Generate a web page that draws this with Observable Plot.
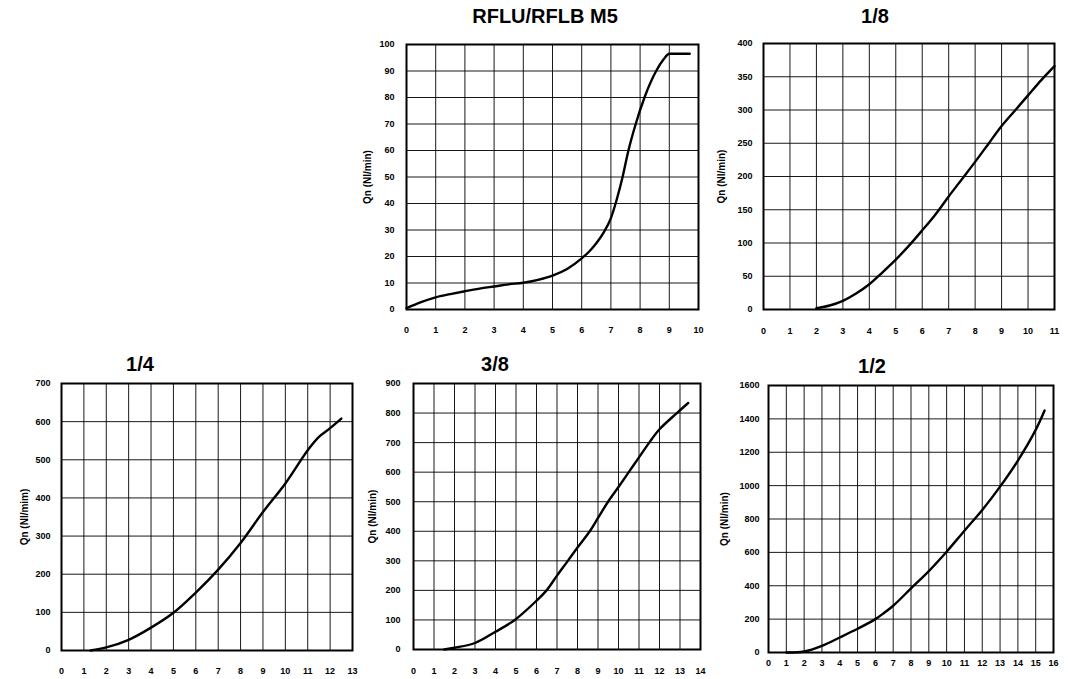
<!DOCTYPE html>
<html>
<head>
<meta charset="utf-8">
<script src="https://cdn.jsdelivr.net/npm/d3@7"></script>
<script src="https://cdn.jsdelivr.net/npm/@observablehq/plot@0.6"></script>
<style>
  body { margin: 0; background: #fff; }
  #wrap { position: relative; width: 1068px; height: 679px; overflow: hidden; background: #fff;
          font-family: "Liberation Sans", Arial, sans-serif; }
  .panel { position: absolute; }
  .title { position: absolute; font-weight: bold; font-size: 20px; transform: translateX(-50%);
           white-space: nowrap; color: #000; line-height: 1; }
</style>
</head>
<body>
<div id="wrap"></div>
<script>
// ---------- Data ----------
const titles = ["RFLU/RFLB M5", "1/8", "1/4", "3/8", "1/2"];
const yLabels = ["Qn (Nl/min)", "Qn (Nl/min)", "Qn (Nl/mim)", "Qn (Nl/min)", "Qn (Nl/min)"];

// RFLU/RFLB M5
const m5X = [0, 0.5, 1, 1.5, 2, 2.5, 3, 3.5, 4, 4.5, 5, 5.5, 6, 6.25, 6.5, 6.75, 7, 7.2, 7.4, 7.6, 7.85, 8.15, 8.55, 8.8, 9.0, 9.7];
const m5Y = [0.5, 2.8, 4.6, 5.8, 6.9, 7.9, 8.7, 9.5, 10.1, 11.2, 12.8, 15.3, 19.3, 21.8, 25, 29, 34.5, 41.5, 50, 60, 70, 80, 90, 94.3, 96.5, 96.5];
const m5XTicks = [0, 1, 2, 3, 4, 5, 6, 7, 8, 9, 10];
const m5YTicks = [0, 10, 20, 30, 40, 50, 60, 70, 80, 90, 100];

// 1/8
const e18X = [2, 2.5, 3, 3.5, 4, 4.5, 5, 5.5, 6, 6.5, 7, 7.5, 8, 8.5, 9, 9.5, 10, 10.5, 11];
const e18Y = [2, 6, 13, 24, 38, 56, 75, 96, 119, 143, 170, 196, 222, 249, 276, 299, 322, 345, 366];
const e18XTicks = [0, 1, 2, 3, 4, 5, 6, 7, 8, 9, 10, 11];
const e18YTicks = [0, 50, 100, 150, 200, 250, 300, 350, 400];

// 1/4
const q14X = [1.3, 2, 3, 4, 5, 6, 7, 8, 9, 10, 11, 11.5, 12, 12.5];
const q14Y = [0, 8, 28, 60, 99, 152, 212, 282, 363, 438, 525, 560, 583, 608];
const q14XTicks = [0, 1, 2, 3, 4, 5, 6, 7, 8, 9, 10, 11, 12, 13];
const q14YTicks = [0, 100, 200, 300, 400, 500, 600, 700];

// 3/8
const t38X = [1.5, 2, 3, 4, 4.94, 6, 6.49, 7, 7.53, 8, 8.6, 9, 9.49, 10, 10.5, 11, 11.5, 12, 12.85, 13.4];
const t38Y = [0, 6, 22, 60, 100, 165, 200, 250, 300, 345, 400, 445, 500, 550, 600, 650, 700, 745, 800, 834];
const t38XTicks = [0, 1, 2, 3, 4, 5, 6, 7, 8, 9, 10, 11, 12, 13, 14];
const t38YTicks = [0, 100, 200, 300, 400, 500, 600, 700, 800, 900];

// 1/2
const h12X = [1, 2, 3, 4, 5, 6, 6.5, 7, 8, 9, 10, 11, 12, 13, 14, 15, 15.5];
const h12Y = [0, 6, 40, 90, 142, 200, 238, 280, 384, 488, 604, 730, 854, 994, 1150, 1334, 1450];
const h12XTicks = [0, 1, 2, 3, 4, 5, 6, 7, 8, 9, 10, 11, 12, 13, 14, 15, 16];
const h12YTicks = [0, 200, 400, 600, 800, 1000, 1200, 1400, 1600];

const series = [
  {xs: m5X, ys: m5Y, xt: m5XTicks, yt: m5YTicks, curve: "monotone-x"},
  {xs: e18X, ys: e18Y, xt: e18XTicks, yt: e18YTicks, curve: "catmull-rom"},
  {xs: q14X, ys: q14Y, xt: q14XTicks, yt: q14YTicks, curve: "catmull-rom"},
  {xs: t38X, ys: t38Y, xt: t38XTicks, yt: t38YTicks, curve: "catmull-rom"},
  {xs: h12X, ys: h12Y, xt: h12XTicks, yt: h12YTicks, curve: "catmull-rom"}
];

// ---------- Layout ----------
const layout = [
  {left: 340, top: 34, width: 370, height: 305, ml: 66, mr: 12, mt: 10, mb: 30, yPad: 12, xPad: 17, lab: 43, tx: 545, ty: 6},
  {left: 700, top: 33, width: 366, height: 306, ml: 63, mr: 12, mt: 10, mb: 30, yPad: 11, xPad: 18, lab: 46, tx: 875, ty: 6},
  {left: 0, top: 373, width: 360, height: 306, ml: 61, mr: 8, mt: 10, mb: 29, yPad: 11, xPad: 17, lab: 41, tx: 140, ty: 354},
  {left: 360, top: 373, width: 348, height: 306, ml: 53, mr: 8, mt: 10, mb: 30, yPad: 13, xPad: 18, lab: 45, tx: 495, ty: 354},
  {left: 708, top: 375, width: 360, height: 304, ml: 60, mr: 15, mt: 10, mb: 27, yPad: 9, xPad: 7, lab: 48, tx: 872, ty: 356}
];

const wrap = document.getElementById("wrap");

series.forEach((s, i) => {
  const L = layout[i];
  const data = s.xs.map((x, k) => ({x, y: s.ys[k]}));
  const xMax = s.xt[s.xt.length - 1];
  const yMax = s.yt[s.yt.length - 1];
  const chart = Plot.plot({
    width: L.width,
    height: L.height,
    marginLeft: L.ml,
    marginRight: L.mr,
    marginTop: L.mt,
    marginBottom: L.mb,
    style: {fontFamily: '"Liberation Sans", Arial, sans-serif', background: "transparent", color: "#000"},
    x: {domain: [0, xMax]},
    y: {domain: [0, yMax]},
    marks: [
      Plot.ruleX(s.xt, {stroke: "#000", strokeWidth: 1, strokeOpacity: 0.9}),
      Plot.ruleY(s.yt, {stroke: "#000", strokeWidth: 1, strokeOpacity: 0.9}),
      Plot.frame({stroke: "#000", strokeWidth: 2}),
      Plot.line(data, {x: "x", y: "y", curve: s.curve, stroke: "#000", strokeWidth: 2.4}),
      Plot.axisX({ticks: s.xt, tickSize: 0, tickPadding: L.xPad, label: null, fontSize: 9, fontWeight: "bold", tickFormat: d => String(d)}),
      Plot.axisY({ticks: s.yt, tickSize: 0, tickPadding: L.yPad, label: yLabels[i], labelAnchor: "center", labelArrow: "none",
                  labelOffset: L.lab, fontSize: 9, fontWeight: "bold", tickFormat: d => String(d)})
    ]
  });
  const div = document.createElement("div");
  div.className = "panel";
  div.style.left = L.left + "px";
  div.style.top = L.top + "px";
  div.appendChild(chart);
  wrap.appendChild(div);

  const t = document.createElement("div");
  t.className = "title";
  t.textContent = titles[i];
  t.style.left = L.tx + "px";
  t.style.top = L.ty + "px";
  wrap.appendChild(t);
});

// make axis label text bold and 10px
wrap.querySelectorAll("svg").forEach(svg => {
  svg.querySelectorAll("g[aria-label='y-axis label'] text, g[aria-label='y-axis label']").forEach(el => {
    el.setAttribute("font-size", 10);
    el.setAttribute("font-weight", "bold");
  });
});
</script>
</body>
</html>
